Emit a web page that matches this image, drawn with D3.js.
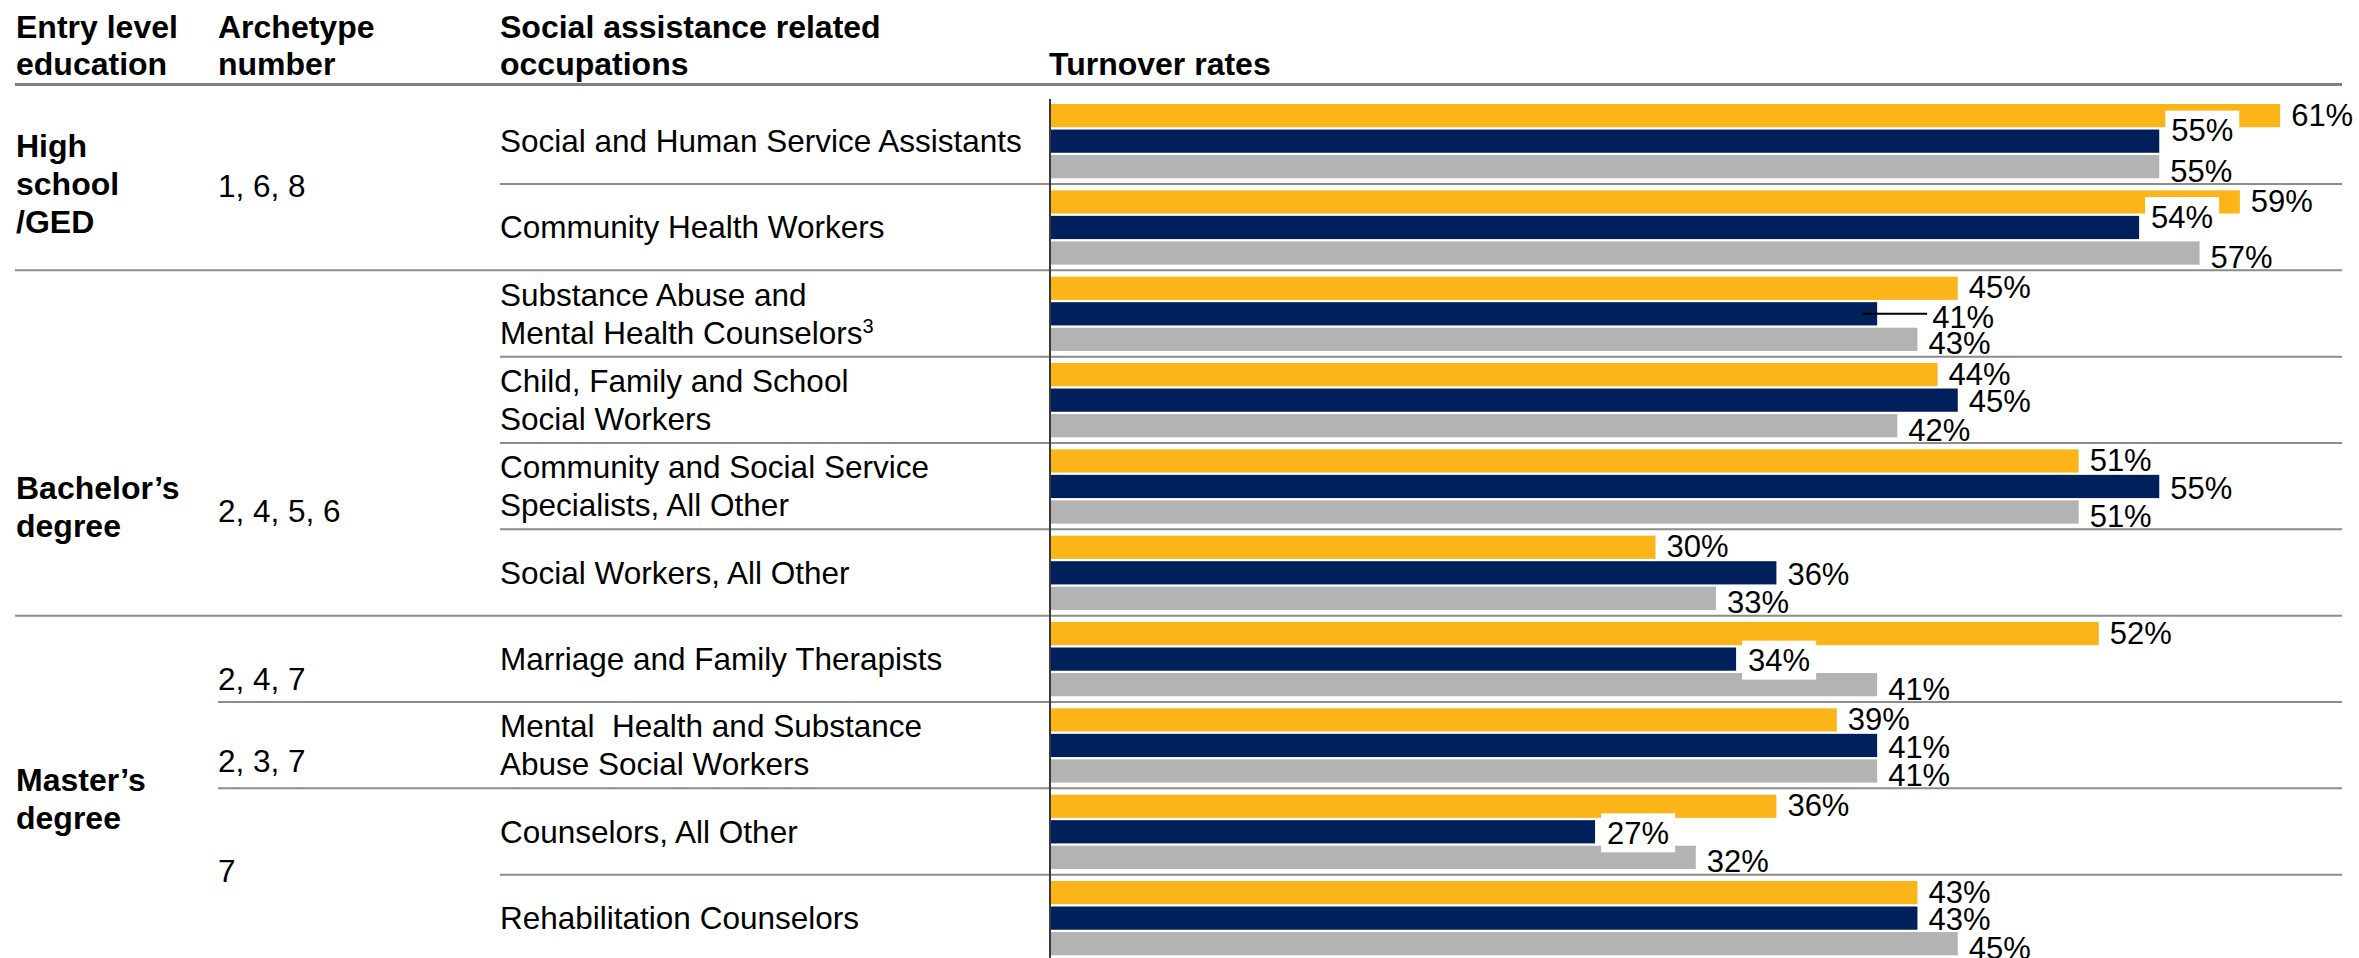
<!DOCTYPE html>
<html>
<head>
<meta charset="utf-8">
<script src="https://cdn.jsdelivr.net/npm/d3@7"></script>
<style>
  html, body { margin: 0; padding: 0; background: #ffffff; }
  svg { display: block; }
  text { font-family: "Liberation Sans", Arial, Helvetica, sans-serif; fill: #000; white-space: pre; }
</style>
</head>
<body>
<svg id="chart" width="2359" height="958"></svg>
<script>
// ---- data -------------------------------------------------------------
const headers = [
  ["Entry level", "education"],
  ["Archetype", "number"],
  ["Social assistance related", "occupations"],
  ["Turnover rates"]
];

const occupations = [
  ["Social and Human Service Assistants"],
  ["Community Health Workers"],
  ["Substance Abuse and", "Mental Health Counselors"],
  ["Child, Family and School", "Social Workers"],
  ["Community and Social Service", "Specialists, All Other"],
  ["Social Workers, All Other"],
  ["Marriage and Family Therapists"],
  ["Mental  Health and Substance", "Abuse Social Workers"],
  ["Counselors, All Other"],
  ["Rehabilitation Counselors"]
];
const footnoteMarks = ["", "", "3", "", "", "", "", "", "", ""];

const educationLabels = [["High", "school", "/GED"], ["Bachelor’s", "degree"], ["Master’s", "degree"]];
const educationRows = [[0, 1], [2, 5], [6, 9]];

const archetypeLabels = ["1, 6, 8", "2, 4, 5, 6", "2, 4, 7", "2, 3, 7", "7"];
const archetypeRows = [[0, 1], [2, 5], [6, 6], [7, 7], [8, 9]];

// turnover rates (%), three series per occupation
const seriesGold = [61, 59, 45, 44, 51, 30, 52, 39, 36, 43];
const seriesNavy = [55, 54, 41, 45, 55, 36, 34, 41, 27, 43];
const seriesGrey = [55, 57, 43, 42, 51, 33, 41, 41, 32, 45];

// ---- styling / layout ------------------------------------------------
const colors = ["#FCB519", "#00205B", "#B3B3B3"];
const W = 2359, H = 958;
const regular = 31.5, bold = 32, labelSize = 31;
const lineH = 38;
const colX = [16, 218, 500, 1049];
const lineEnd = 2342;

// vertical nudges for the left-hand column texts (px from cell centre)
const educationShift = [0, 64, 10];
const archetypeShift = [2, 68, 20, 16, -4];
// per-series vertical nudge of value labels
const seriesLabelDy = [-1, 1, 4];
// hand-placed value labels
const labelTweaks = [
  { row: 0, s: 1, dx: 1, dy: -11, box: true },
  { row: 1, s: 1, dx: 1, dy: -11, box: true },
  { row: 2, s: 1, dx: 44, dy: 3, leader: true },
  { row: 6, s: 1, dx: 1, dy: 1, box: true },
  { row: 8, s: 1, dx: 1, dy: 1, box: true }
];

const series = [seriesGold, seriesNavy, seriesGrey];
const rows = d3.range(occupations.length);

const svg = d3.select("#chart");

// ---- scales ----------------------------------------------------------
const y = d3.scaleBand().domain(rows).range([97.7, 961]).padding(0);
const yInner = d3.scaleBand().domain([0, 1, 2]).range([6.3, 80.6]).paddingInner(0.09);
const x = d3.scaleLinear().domain([0, 100]).range([1051, 1051 + 2015]);
const rowCenter = r => y(r) + y.bandwidth() / 2;

// ---- helpers ---------------------------------------------------------
function multiline(g, lines, xPos, cy, size, weight) {
  const first = cy - (lines.length - 1) / 2 * lineH + 0.35 * size;
  const t = g.append("text")
    .attr("x", xPos)
    .attr("font-size", size)
    .attr("font-weight", weight);
  lines.forEach((ln, i) => {
    t.append("tspan").attr("x", xPos).attr("y", first + i * lineH).text(ln);
  });
  return t;
}

// ---- header ----------------------------------------------------------
const header = svg.append("g").attr("class", "header");
headers.forEach((lines, i) => {
  const base = lines.length === 2 ? 38 : 75;
  const t = header.append("text")
    .attr("x", colX[i])
    .attr("font-size", bold)
    .attr("font-weight", "bold");
  lines.forEach((ln, j) => t.append("tspan").attr("x", colX[i]).attr("y", base + j * 37).text(ln));
});
header.append("line")
  .attr("x1", 15).attr("x2", lineEnd)
  .attr("y1", 84.5).attr("y2", 84.5)
  .attr("stroke", "#808080").attr("stroke-width", 3);

// ---- row separators --------------------------------------------------
const groupStarts = educationRows.map(d => d[0]);
const archStarts = archetypeRows.map(d => d[0]);
const seps = rows.slice(1).map(r => ({
  r,
  x1: groupStarts.includes(r) ? 15 : (archStarts.includes(r) ? colX[1] : colX[2])
}));
svg.append("g").selectAll("line")
  .data(seps)
  .join("line")
  .attr("x1", d => d.x1).attr("x2", lineEnd)
  .attr("y1", d => y(d.r)).attr("y2", d => y(d.r))
  .attr("stroke", "#8C8C8C").attr("stroke-width", 2);

// ---- left columns ----------------------------------------------------
const left = svg.append("g").attr("class", "left");
educationLabels.forEach((lines, i) => {
  const [a, b] = educationRows[i];
  const cy = (y(a) + y(b) + y.bandwidth()) / 2 + educationShift[i];
  multiline(left, lines, colX[0], cy, bold, "bold");
});
archetypeLabels.forEach((lab, i) => {
  const [a, b] = archetypeRows[i];
  const cy = (y(a) + y(b) + y.bandwidth()) / 2 + archetypeShift[i];
  multiline(left, [lab], colX[1], cy, regular, "normal");
});
occupations.forEach((lines, r) => {
  const t = multiline(left, lines, colX[2], rowCenter(r), regular, "normal");
  if (footnoteMarks[r]) {
    t.select("tspan:last-child").append("tspan")
      .attr("font-size", 20)
      .attr("dy", -11)
      .text(footnoteMarks[r]);
  }
});

// ---- bars ------------------------------------------------------------
const barData = [];
rows.forEach(r => series.forEach((vals, s) => barData.push({ r, s, v: vals[r] })));

const bars = svg.append("g").attr("class", "bars");
bars.selectAll("rect")
  .data(barData)
  .join("rect")
  .attr("x", x(0))
  .attr("y", d => y(d.r) + yInner(d.s))
  .attr("width", d => x(d.v) - x(0))
  .attr("height", yInner.bandwidth())
  .attr("fill", d => colors[d.s]);

// value axis baseline
svg.append("line")
  .attr("x1", 1050).attr("x2", 1050)
  .attr("y1", 99).attr("y2", H)
  .attr("stroke", "#3A3A3A").attr("stroke-width", 2);

// ---- value labels ----------------------------------------------------
const labels = svg.append("g").attr("class", "labels");
barData.forEach(d => {
  const tw = labelTweaks.find(t => t.row === d.r && t.s === d.s) || {};
  const barCy = y(d.r) + yInner(d.s) + yInner.bandwidth() / 2;
  const cy = barCy + (tw.dy !== undefined ? tw.dy : seriesLabelDy[d.s]);
  const lx = x(d.v) + 11 + (tw.dx || 0);
  if (tw.leader) {
    labels.append("line")
      .attr("x1", x(d.v) - 15).attr("x2", lx - 5)
      .attr("y1", barCy).attr("y2", barCy)
      .attr("stroke", "#000").attr("stroke-width", 2);
  }
  const g = labels.append("g");
  const t = g.append("text")
    .attr("x", lx)
    .attr("y", cy + 0.358 * labelSize)
    .attr("font-size", labelSize)
    .text(d.v + "%");
  if (tw.box) {
    const bb = t.node().getBBox();
    g.insert("rect", "text")
      .attr("x", bb.x - 6)
      .attr("y", cy - 19.5)
      .attr("width", bb.width + 12)
      .attr("height", 39)
      .attr("fill", "#ffffff");
  }
});
</script>
</body>
</html>
